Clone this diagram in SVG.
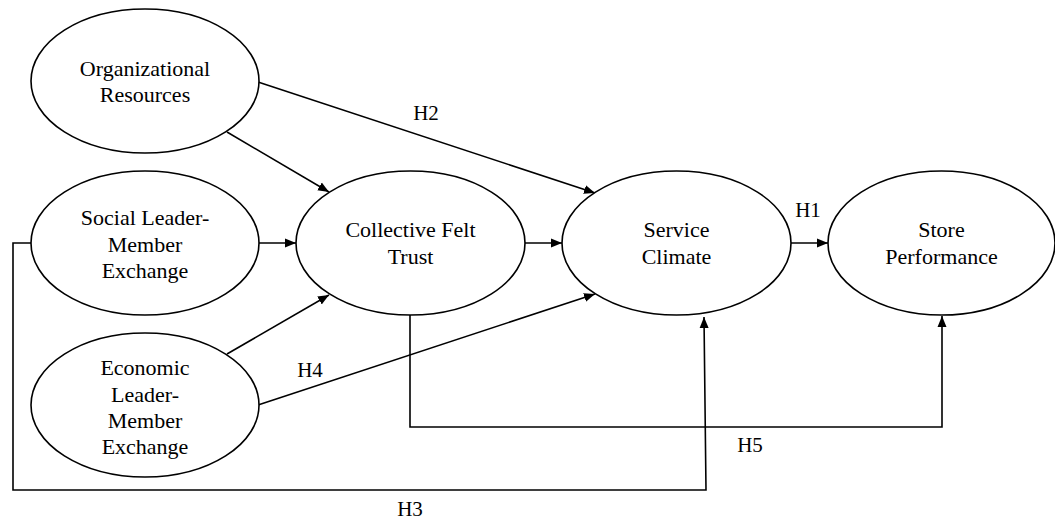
<svg xmlns="http://www.w3.org/2000/svg" width="1055" height="519" viewBox="0 0 1055 519">
<style>
.n{fill:#fff;stroke:#000;stroke-width:1.6}
.t{font-family:"Liberation Serif","Times New Roman",serif;font-size:22px;fill:#000;text-anchor:middle}
.l{font-family:"Liberation Serif","Times New Roman",serif;font-size:21px;fill:#000;text-anchor:middle}
.c{fill:none;stroke:#000;stroke-width:1.6}
</style>
<defs>
<marker id="a" markerUnits="userSpaceOnUse" markerWidth="12" markerHeight="10" refX="11" refY="5" orient="auto">
<path d="M0,0.5 L11,5 L0,9.5 z" fill="#000"/>
</marker>
</defs>
<rect width="1055" height="519" fill="#fff"/>
<g id="connectors">
<line class="c" x1="227" y1="132" x2="329" y2="192" marker-end="url(#a)"/>
<line class="c" x1="258" y1="82" x2="595" y2="193" marker-end="url(#a)"/>
<line class="c" x1="258" y1="243" x2="296" y2="243" marker-end="url(#a)"/>
<line class="c" x1="227" y1="354" x2="329" y2="295" marker-end="url(#a)"/>
<line class="c" x1="258" y1="405" x2="595" y2="294" marker-end="url(#a)"/>
<line class="c" x1="525" y1="243" x2="562" y2="243" marker-end="url(#a)"/>
<line class="c" x1="791" y1="243" x2="828" y2="243" marker-end="url(#a)"/>
<path class="c" d="M410,315 V427 H942 V316" marker-end="url(#a)"/>
<path class="c" d="M31,243 H13 V490 H706 L704,317" marker-end="url(#a)"/>
<text class="l" x="808" y="217">H1</text>
<text class="l" x="426" y="120">H2</text>
<text class="l" x="410" y="516">H3</text>
<text class="l" x="310" y="377">H4</text>
<text class="l" x="750" y="452">H5</text>
</g>
<g id="org">
<ellipse class="n" cx="145" cy="81" rx="114" ry="72"/>
<text class="t" x="145" y="76">Organizational</text>
<text class="t" x="145" y="102">Resources</text>
</g>
<g id="slmx">
<ellipse class="n" cx="145" cy="243" rx="114" ry="72"/>
<text class="t" x="145" y="225">Social Leader-</text>
<text class="t" x="145" y="252">Member</text>
<text class="t" x="145" y="278">Exchange</text>
</g>
<g id="elmx">
<ellipse class="n" cx="145" cy="405" rx="114" ry="72"/>
<text class="t" x="145" y="375">Economic</text>
<text class="t" x="145" y="402">Leader-</text>
<text class="t" x="145" y="428">Member</text>
<text class="t" x="145" y="454">Exchange</text>
</g>
<g id="cft">
<ellipse class="n" cx="410.5" cy="243" rx="114.5" ry="72"/>
<text class="t" x="410.5" y="237">Collective Felt</text>
<text class="t" x="410.5" y="264">Trust</text>
</g>
<g id="sc">
<ellipse class="n" cx="676.5" cy="243" rx="114.5" ry="72"/>
<text class="t" x="676.5" y="237">Service</text>
<text class="t" x="676.5" y="264">Climate</text>
</g>
<g id="sp">
<ellipse class="n" cx="941.5" cy="243" rx="113.5" ry="72"/>
<text class="t" x="941.5" y="237">Store</text>
<text class="t" x="941.5" y="264">Performance</text>
</g>
</svg>
